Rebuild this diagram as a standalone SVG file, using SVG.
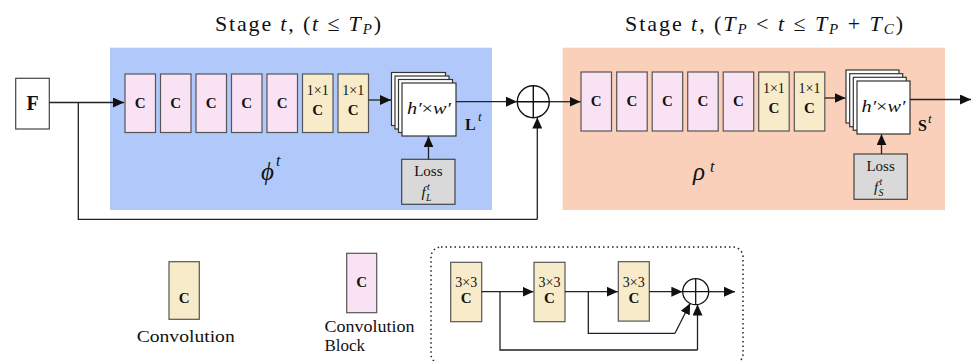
<svg xmlns="http://www.w3.org/2000/svg" width="971" height="361" viewBox="0 0 971 361">
<defs>
<marker id="ah" markerUnits="userSpaceOnUse" markerWidth="12" markerHeight="10" refX="11" refY="5" orient="auto">
<path d="M0,0 L11,5 L0,10 Z" fill="#111"/>
</marker>
<style>
text{font-family:"Liberation Serif","DejaVu Serif",serif;fill:#111}
.cb{fill:#f9e2f3;stroke:#555;stroke-width:1.2}
.cv{fill:#f8ebc9;stroke:#555;stroke-width:1.2}
.ly{fill:#fff;stroke:#333;stroke-width:1.2}
.loss{fill:#d9d9d9;stroke:#444;stroke-width:1.2}
.c{font-weight:bold;font-size:15px;text-anchor:middle}
.k{font-size:14px;text-anchor:middle}
.ln{fill:none;stroke:#222;stroke-width:1.3}
.ar{fill:none;stroke:#222;stroke-width:1.3;marker-end:url(#ah)}
.it{font-style:italic}
</style>
</defs>
<rect width="971" height="361" fill="#fff"/>

<g id="titles">
<text x="215" y="31" font-size="22" textLength="166" lengthAdjust="spacing">Stage <tspan class="it">t</tspan>, (<tspan class="it">t</tspan> ≤ <tspan class="it">T</tspan><tspan class="it" font-size="15" dy="3">P</tspan><tspan dy="-3">)</tspan></text>
<text x="625" y="31" font-size="22" textLength="278" lengthAdjust="spacing">Stage <tspan class="it">t</tspan>, (<tspan class="it">T</tspan><tspan class="it" font-size="15" dy="3">P</tspan><tspan dy="-3"> &lt; </tspan><tspan class="it">t</tspan> ≤ <tspan class="it">T</tspan><tspan class="it" font-size="15" dy="3">P</tspan><tspan dy="-3"> + </tspan><tspan class="it">T</tspan><tspan class="it" font-size="15" dy="3">C</tspan><tspan dy="-3">)</tspan></text>
</g>

<g id="stage1">
<rect x="110" y="47.7" width="382" height="162.3" fill="#b1c9fa"/>
<text x="261" y="180" font-size="25" class="it">ϕ</text><text x="276" y="166" font-size="16" class="it">t</text>
</g>
<g id="stage2">
<rect x="562.7" y="47.7" width="382.3" height="162.3" fill="#fbd0bb"/>
<text x="693" y="180" font-size="25" class="it">ρ</text><text x="710" y="172" font-size="16" class="it">t</text>
</g>

<g id="F">
<rect x="15.7" y="78.3" width="33.6" height="50.7" fill="#fff" stroke="#444" stroke-width="1.2"/>
<text x="32.5" y="110" font-size="20" font-weight="bold" text-anchor="middle">F</text>
</g>

<g id="s1-blocks">
<rect class="cb" x="125" y="74" width="30.5" height="58.5"/><text class="c" x="140.2" y="108">C</text>
<rect class="cb" x="160.5" y="74" width="30.5" height="58.5"/><text class="c" x="175.7" y="108">C</text>
<rect class="cb" x="196" y="74" width="30.5" height="58.5"/><text class="c" x="211.2" y="108">C</text>
<rect class="cb" x="231.5" y="74" width="30.5" height="58.5"/><text class="c" x="246.7" y="108">C</text>
<rect class="cb" x="267" y="74" width="30.5" height="58.5"/><text class="c" x="282.2" y="108">C</text>
<rect class="cv" x="302.5" y="74" width="30.5" height="58.5"/><text class="k" x="317.7" y="95">1×1</text><text class="c" x="317.7" y="115">C</text>
<rect class="cv" x="338" y="74" width="30.5" height="58.5"/><text class="k" x="353.2" y="95">1×1</text><text class="c" x="353.2" y="115">C</text>
</g>

<g id="s1-stack">
<rect class="ly" x="391.5" y="72.5" width="54" height="53"/>
<rect class="ly" x="395" y="76" width="54" height="53"/>
<rect class="ly" x="398.5" y="79.5" width="54" height="53"/>
<rect class="ly" x="402" y="83" width="54" height="53"/>
<text x="407" y="114" font-size="17" class="it" textLength="44" lengthAdjust="spacingAndGlyphs">h′<tspan font-style="normal">×</tspan>w′</text>
<text x="465" y="129.5" font-size="16" font-weight="bold">L</text><text x="478" y="121" font-size="13" class="it">t</text>
</g>
<g id="s1-loss">
<rect class="loss" x="401.7" y="159.3" width="53.3" height="45"/>
<text x="428.3" y="176" font-size="15" text-anchor="middle">Loss</text>
<text x="421.5" y="197" font-size="15" class="it">f</text><text x="427" y="190" font-size="10" class="it">t</text><text x="426" y="201" font-size="10" class="it">L</text>
</g>

<g id="sum1">
<circle cx="533.3" cy="101.7" r="16" fill="#fff" stroke="#111" stroke-width="1.4"/>
<path d="M517.3,101.7 H549.3 M533.3,85.7 V117.7" stroke="#111" stroke-width="1.4"/>
</g>

<g id="s2-blocks">
<rect class="cb" x="581" y="72" width="30.5" height="59"/><text class="c" x="596.2" y="106">C</text>
<rect class="cb" x="616.7" y="72" width="30.5" height="59"/><text class="c" x="631.9" y="106">C</text>
<rect class="cb" x="652.2" y="72" width="30.5" height="59"/><text class="c" x="667.4" y="106">C</text>
<rect class="cb" x="687.7" y="72" width="30.5" height="59"/><text class="c" x="702.9" y="106">C</text>
<rect class="cb" x="723.2" y="72" width="30.5" height="59"/><text class="c" x="738.4" y="106">C</text>
<rect class="cv" x="758.7" y="72" width="30.5" height="59"/><text class="k" x="773.9" y="93">1×1</text><text class="c" x="773.9" y="113">C</text>
<rect class="cv" x="794.3" y="72" width="30.5" height="59"/><text class="k" x="809.5" y="93">1×1</text><text class="c" x="809.5" y="113">C</text>
</g>

<g id="s2-stack">
<rect class="ly" x="846" y="70" width="53" height="53"/>
<rect class="ly" x="849.7" y="73.7" width="53" height="53"/>
<rect class="ly" x="853.3" y="77.3" width="53" height="53"/>
<rect class="ly" x="857" y="81" width="53" height="53"/>
<text x="861.5" y="112" font-size="17" class="it" textLength="44" lengthAdjust="spacingAndGlyphs">h′<tspan font-style="normal">×</tspan>w′</text>
<text x="918" y="131" font-size="16" font-weight="bold">S</text><text x="928" y="122.5" font-size="13" class="it">t</text>
</g>
<g id="s2-loss">
<rect class="loss" x="854" y="154" width="53.3" height="45.3"/>
<text x="880.6" y="171" font-size="15" text-anchor="middle">Loss</text>
<text x="874" y="192" font-size="15" class="it">f</text><text x="879.5" y="185" font-size="10" class="it">t</text><text x="878.5" y="196" font-size="10" class="it">S</text>
</g>

<g id="legend-conv">
<rect class="cv" x="169" y="261.7" width="30.3" height="57.6"/>
<text class="c" x="184.2" y="303">C</text>
<text x="136.7" y="342" font-size="17" textLength="98" lengthAdjust="spacingAndGlyphs">Convolution</text>
</g>
<g id="legend-block">
<rect class="cb" x="346.7" y="253.3" width="30" height="59.4"/>
<text class="c" x="361.7" y="287">C</text>
<text x="324.5" y="332" font-size="17" textLength="90" lengthAdjust="spacingAndGlyphs">Convolution</text>
<text x="324.5" y="351" font-size="17">Block</text>
</g>

<g id="residual">
<rect x="431" y="247" width="312" height="117" rx="10" fill="none" stroke="#222" stroke-width="1.5" stroke-dasharray="1.5,3"/>
<rect class="cv" x="450.7" y="262.3" width="31" height="59.4"/><text class="k" x="466.2" y="287">3×3</text><text class="c" x="466.2" y="303">C</text>
<rect class="cv" x="534" y="262.3" width="31" height="59.4"/><text class="k" x="549.5" y="287">3×3</text><text class="c" x="549.5" y="303">C</text>
<rect class="cv" x="618.3" y="261.7" width="31" height="59.4"/><text class="k" x="633.8" y="287">3×3</text><text class="c" x="633.8" y="303">C</text>
<circle cx="695.7" cy="291.7" r="13" fill="#fff" stroke="#111" stroke-width="1.3"/>
<path d="M682.7,291.7 H708.7 M695.7,278.7 V304.7" stroke="#111" stroke-width="1.3"/>
</g>

<g id="connectors">
<path class="ar" d="M49.3,102.5 H124"/>
<path class="ln" d="M78.3,102.5 V219.3 H537.3"/>
<path class="ar" d="M537.3,219.3 V117.6"/>
<path class="ar" d="M368.5,100 H391"/>
<path class="ar" d="M456,101.7 H517"/>
<path class="ar" d="M549.3,101.7 H580.5"/>
<path class="ar" d="M428.5,159.3 V136.3"/>
<path class="ar" d="M824.8,98 H845.5"/>
<path class="ar" d="M910,99.5 H971"/>
<path class="ar" d="M881.5,154 V134.3"/>
<path class="ar" d="M481.7,291.7 H533.5"/>
<path class="ln" d="M500,291.7 V350 H697.5"/>
<path class="ar" d="M697.5,350 V304.6"/>
<path class="ar" d="M565,291.7 H617.8"/>
<path class="ln" d="M588.3,291.7 V333.3 H675"/>
<path class="ar" d="M675,333.3 L690.2,303.3"/>
<path class="ar" d="M649.3,291.7 H682.4"/>
<path class="ar" d="M708.7,291.7 H735"/>
</g>
</svg>
